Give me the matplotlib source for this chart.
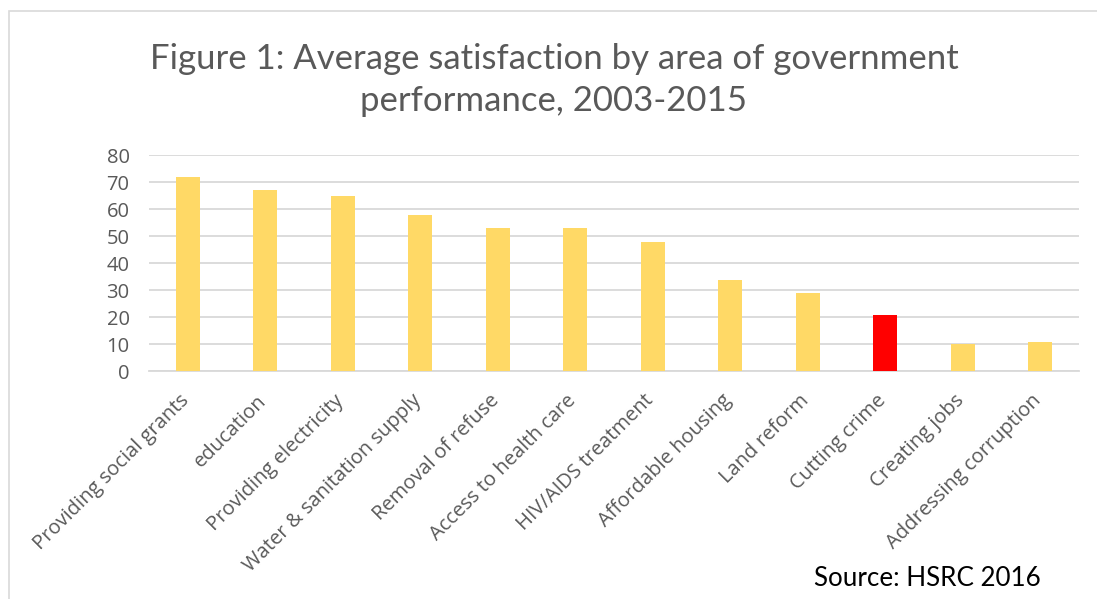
import matplotlib
matplotlib.use("Agg")
import matplotlib.pyplot as plt
from matplotlib.patches import Rectangle
from matplotlib.transforms import ScaledTranslation

categories = ["Providing social grants", "education", "Providing electricity",
              "Water & sanitation supply", "Removal of refuse", "Access to health care",
              "HIV/AIDS treatment", "Affordable housing", "Land reform",
              "Cutting crime", "Creating jobs", "Addressing corruption"]
values = [72, 67, 65, 58, 53, 53, 48, 34, 29, 21, 10, 11]
highlight = "Cutting crime"
yticks = [0, 10, 20, 30, 40, 50, 60, 70, 80]

title = "Figure 1: Average satisfaction by area of government\nperformance, 2003-2015"
source = "Source: HSRC 2016"

plt.rcParams['font.family'] = ['Lato', 'DejaVu Sans']

W, H = 1097, 599
fig = plt.figure(figsize=(W / 100, H / 100), dpi=100)
fig.patch.set_facecolor("white")

# outer chart border (top and left visible)
fig.add_artist(Rectangle((9 / W, -0.1), 1.2, (H - 11) / H + 0.1, transform=fig.transFigure,
                         fill=False, edgecolor="#d9d9d9", linewidth=1.2))

ax = fig.add_axes([149 / W, (H - 371.3) / H, (1079 - 149) / W, (371.3 - 155.3) / H])
colors = ["#FF0000" if c == highlight else "#FFD966" for c in categories]
x = list(range(len(categories)))
ax.bar(x, values, width=0.31, color=colors, zorder=3)
ax.set_xlim(-0.5, len(categories) - 0.5)
ax.set_ylim(0, 80)
ax.set_yticks(yticks)
ax.yaxis.grid(True, color="#d9d9d9", linewidth=1.3, zorder=0)
ax.set_axisbelow(True)
for s in ["top", "right", "left"]:
    ax.spines[s].set_visible(False)
ax.spines["bottom"].set_color("#d9d9d9")
ax.spines["bottom"].set_linewidth(1.3)
ax.tick_params(axis="both", length=0)
ax.tick_params(axis="y", labelsize=14.5, labelcolor="#595959", pad=14)
for lab in ax.get_yticklabels():
    lab.set_family(['Open Sans', 'DejaVu Sans'])
ax.set_xticks(x)
ax.set_xticklabels(categories, rotation=45, ha="right", rotation_mode="anchor",
                   fontsize=14.5, color="#595959", family=['Open Sans', 'DejaVu Sans'])
ax.tick_params(axis="x", pad=14)
shift = ScaledTranslation(-9 / 100, 0, fig.dpi_scale_trans)
for lab in ax.get_xticklabels():
    lab.set_transform(lab.get_transform() + shift)

fig.text(554 / W, 1 - 80 / H, title, ha="center", va="center", fontsize=25,
         color="#595959", linespacing=1.4)
fig.text(927 / W, 1 - 578 / H, source, ha="center", va="center", fontsize=18.7,
         color="black")

fig.savefig("out.png", dpi=100)
